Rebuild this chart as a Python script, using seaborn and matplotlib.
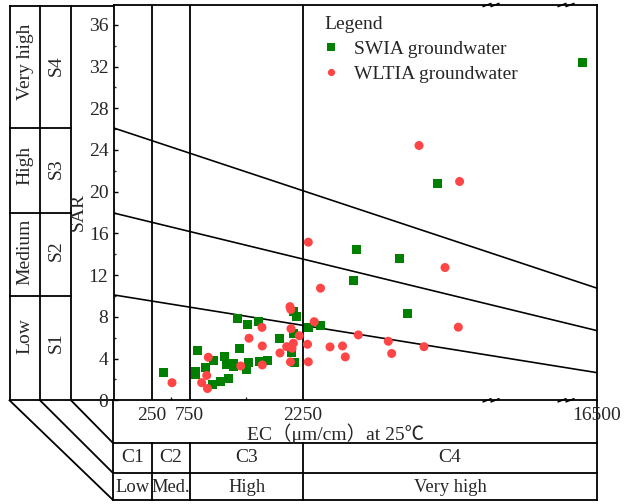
import numpy as np
import pandas as pd
import matplotlib
matplotlib.use("Agg")
import matplotlib.pyplot as plt
import seaborn as sns

# ---------------- data ----------------
swia_ec = [400, 853, 820, 820, 956, 1065, 1217, 1243, 1336, 1327, 1499, 1535,
           1055, 1153, 1266, 1406, 1378, 1515, 1667, 1680, 1777, 1945, 2122,
           2168, 2122, 2102, 2133, 2507, 3113, 4853, 6908, 4674, 7305, 8745, 15807]
swia_sar = [2.67, 4.76, 2.74, 2.43, 3.18, 3.77, 4.18, 3.42, 3.55, 3.20, 2.98, 3.58,
            1.52, 1.80, 2.06, 4.99, 7.85, 7.30, 7.54, 3.70, 3.77, 5.95, 8.50,
            8.01, 6.43, 4.56, 3.64, 6.96, 7.13, 14.47, 13.59, 11.47, 8.33, 20.76, 32.40]
wltia_ec = [515, 996, 975, 908, 985, 1425, 1535, 1707, 1711, 1711, 1945, 2034,
            2078, 2088, 2091, 2122, 2104, 2084, 2200, 2468, 2507, 2793, 3098,
            2507, 3559, 4165, 4300, 4930, 6384, 6549, 8115, 9133, 9777, 7873, 9840]
wltia_sar = [1.69, 4.13, 2.38, 1.69, 1.13, 3.29, 5.95, 6.99, 5.21, 3.39, 4.54, 5.14,
             8.98, 8.71, 6.87, 5.47, 4.99, 3.68, 6.19, 5.37, 3.69, 7.54, 10.75,
             15.16, 5.12, 5.21, 4.16, 6.27, 5.66, 4.49, 5.14, 12.73, 7.01, 24.43, 20.98]

group_names = ["SWIA groundwater", "WLTIA groundwater"]
x_tick_values = [250, 750, 2250, 16500]
x_tick_labels = ["250", "750", "2250", "16500"]
x_minor_ticks = [500, 1500]
y_ticks = list(range(0, 37, 4))
ec_class_limits = [250, 750, 2250]
boundary_left = [26.1, 17.95, 10.1]
boundary_right = [10.75, 6.68, 2.65]
salinity_classes = ["C1", "C2", "C3", "C4"]
salinity_names = ["Low", "Med.", "High", "Very high"]
sodium_classes = ["S4", "S3", "S2", "S1"]
sodium_names = ["Very high", "High", "Medium", "Low"]

df = pd.DataFrame({
    "EC": swia_ec + wltia_ec,
    "SAR": swia_sar + wltia_sar,
    "group": [group_names[0]] * len(swia_ec) + [group_names[1]] * len(wltia_ec),
})

# ---------------- style ----------------
sns.set_theme(style="white")
plt.rcParams["font.family"] = ["Liberation Serif", "Noto Sans CJK SC", "DejaVu Sans"]
plt.rcParams["font.size"] = 14
FS = 14
LW = 1.3

W, H = 624, 504
fig = plt.figure(figsize=(W / 100, H / 100), dpi=100)

# axes placement in pixels
ax_l, ax_r, ax_t, ax_b = 114, 597, 5, 400.3
ax = fig.add_axes([ax_l / W, 1 - ax_b / H, (ax_r - ax_l) / W, (ax_b - ax_t) / H], zorder=2)

# piecewise EC scale (broken axis after 2250)
def fwd(v):
    v = np.asarray(v, dtype=float)
    return np.where(v <= 2250, (v + 253) / 13.245, 189 + (v - 2250) / 48.47)

def inv(u):
    u = np.asarray(u, dtype=float)
    return np.where(u <= 189, u * 13.245 - 253, 2250 + (u - 189) * 48.47)

ax.set_xscale("function", functions=(fwd, inv))
ax.set_xlim(-253, 16500)
ax.set_ylim(0, 37.9)

sns.scatterplot(data=df, x="EC", y="SAR", hue="group", style="group",
                palette={group_names[0]: "#008000", group_names[1]: "#FF4545"},
                markers={group_names[0]: "s", group_names[1]: "o"},
                s=42, linewidth=0, ax=ax, zorder=3)

# class limit lines
for v in ec_class_limits:
    ax.axvline(v, color="black", lw=LW, zorder=1)
# sodium hazard boundaries (straight across the diagram)
ytr = ax.get_yaxis_transform()
for yl, yr in zip(boundary_left, boundary_right):
    ax.plot([0, 1], [yl, yr], color="black", lw=LW * 0.9, transform=ytr, zorder=1)

# ticks
ax.set_yticks(y_ticks)
ax.set_yticks(list(range(2, 38, 4)), minor=True)
ax.set_xticks(x_tick_values, x_tick_labels)
ax.set_xticks(x_minor_ticks, minor=True)
ax.tick_params(axis="y", which="major", direction="in", length=3, width=1,
               labelsize=FS, pad=4, left=True, color="black")
ax.tick_params(axis="y", which="minor", direction="in", length=1.5, width=1, left=True)
ax.tick_params(axis="x", which="major", length=0, labelsize=FS, pad=5)
ax.tick_params(axis="x", which="minor", direction="in", length=2.5, width=1, bottom=True)
for sp in ax.spines.values():
    sp.set_color("black")
    sp.set_linewidth(LW)

ax.set_ylabel("SAR", fontsize=FS, labelpad=0)
ax.yaxis.set_label_coords(-0.056, 0.476)
ax.set_xlabel("EC（μm/cm）at 25℃", fontsize=FS)
ax.xaxis.set_label_coords(0.458, -0.058)

# broken-axis marks
for cx in [487, 495, 562, 570]:
    xa = (cx - ax_l) / (ax_r - ax_l)
    dx = 4 / (ax_r - ax_l)
    dy = 1.6 / (ax_b - ax_t)
    for ya in (0, 1):
        ax.plot([xa - dx, xa + dx], [ya - dy, ya + dy], color="black", lw=1.1,
                transform=ax.transAxes, clip_on=False, zorder=4)

# legend
handles, labels = ax.get_legend_handles_labels()
leg = ax.legend(handles, labels, loc="upper left",
                bbox_to_anchor=((324 - ax_l) / (ax_r - ax_l), 0.971),
                frameon=False, title="Legend", alignment="left", fontsize=FS,
                title_fontsize=FS, handlelength=0.75, handletextpad=0.8,
                labelspacing=0.36, borderpad=0, borderaxespad=0, markerscale=0.8)

# ---------------- overlay for the classification tables ----------------
ov = fig.add_axes([0, 0, 1, 1], zorder=1)
ov.set_xlim(0, W)
ov.set_ylim(H, 0)
ov.axis("off")
ov.patch.set_alpha(0)

def seg(x0, y0, x1, y1):
    ov.plot([x0, x1], [y0, y1], color="black", lw=LW, solid_capstyle="projecting")

# left table (sodium hazard)
xl = [9.5, 40, 71]
for x in xl:
    seg(x, 6, x, ax_b)
seg(xl[0], 6, ax_l, 6)
seg(xl[0], ax_b, ax_l, ax_b)
row_edges = [128.3, 213.3, 295.5]
for y in row_edges:
    seg(xl[0], y, xl[2], y)
# perspective diagonals
bt = [443, 473, 500]
seg(xl[0], ax_b, ax_l - 1, bt[2])
seg(xl[1], ax_b, ax_l - 1, bt[1])
seg(xl[2], ax_b, ax_l - 1, bt[0])
# bottom table (salinity hazard)
seg(ax_l - 1, ax_b, ax_l - 1, bt[2])
seg(ax_r, ax_b, ax_r, bt[2])
for y in bt:
    seg(ax_l - 1, y, ax_r, y)
col_px = [152, 190, 303]
for x in col_px:
    seg(x, bt[0], x, bt[2])

# texts of the tables
name_y = [62, 165, 252, 336]
cls_y = [66, 169, 251, 343]
for nm, cl, yn, yc in zip(sodium_names, sodium_classes, name_y, cls_y):
    ov.text(25, yn, nm, rotation=90, ha="center", va="center", fontsize=FS)
    ov.text(56, yc, cl, rotation=90, ha="center", va="center", fontsize=FS)

col_edges = [ax_l - 1] + col_px + [ax_r]
for i, (c, n) in enumerate(zip(salinity_classes, salinity_names)):
    cx = (col_edges[i] + col_edges[i + 1]) / 2
    ov.text(cx, (bt[0] + bt[1]) / 2, c, ha="center", va="center", fontsize=FS)
    ov.text(cx, (bt[1] + bt[2]) / 2 + 1, n, ha="center", va="center", fontsize=13.3)

fig.savefig("out.png", dpi=100)
